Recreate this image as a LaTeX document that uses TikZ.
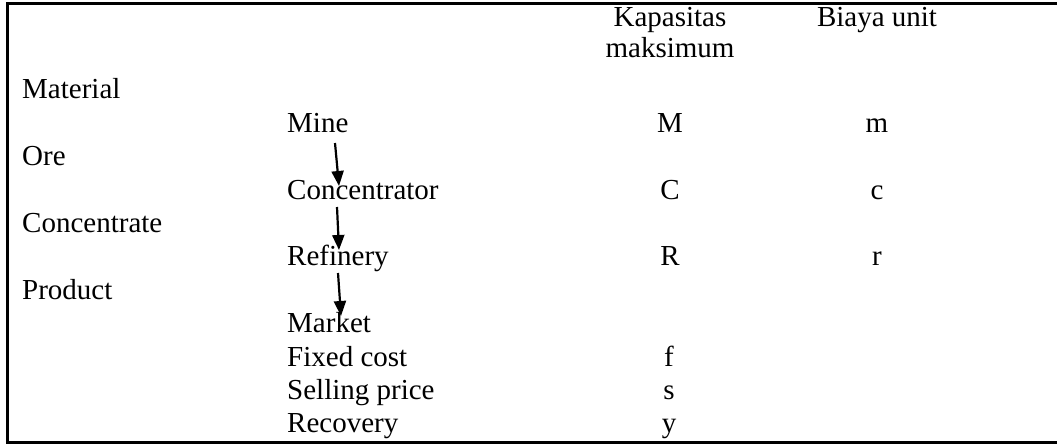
\documentclass[tikz,border=0pt]{standalone}
\usepackage{fontspec}
\setmainfont{Liberation Serif}
\usetikzlibrary{arrows.meta}
\tikzset{
  txt/.style={inner sep=0pt, anchor=base west, font=\fontsize{29}{33}\selectfont},
  ctxt/.style={inner sep=0pt, anchor=base, font=\fontsize{29}{33}\selectfont},
  arr/.style={line width=2.2pt, -{Triangle[width=12pt,length=15pt]}},
  frame/.style={line width=2.4pt}
}
\begin{document}
\begin{tikzpicture}[x=1pt,y=-1pt]
\useasboundingbox (0,0) rectangle (1057,444);
\draw[frame] (1057,3.5) -- (7.5,3.5) -- (7.5,442.5) -- (1057,442.5);
% headers
\node[ctxt] (kap1) at (670,27) {Kapasitas};
\node[ctxt] (kap2) at (670,58) {maksimum};
\node[ctxt] (biaya) at (877,27) {Biaya unit};
% left column
\node[txt] (material) at (22,98) {Material};
\node[txt] (ore) at (22,165) {Ore};
\node[txt] (concentrate) at (22,232) {Concentrate};
\node[txt] (product) at (22,299) {Product};
% middle column
\node[txt] (mine) at (287,132) {Mine};
\node[txt] (conc) at (287,199) {Concentrator};
\node[txt] (ref) at (287,265.5) {Refinery};
\node[txt] (market) at (287,332) {Market};
\node[txt] (fixed) at (287,366) {Fixed cost};
\node[txt] (selling) at (287,399) {Selling price};
\node[txt] (recovery) at (287,432) {Recovery};
% capacities
\node[ctxt] (M) at (670,132) {M};
\node[ctxt] (C) at (670,199) {C};
\node[ctxt] (R) at (670,265.5) {R};
\node[ctxt] (f) at (669,366) {f};
\node[ctxt] (s) at (669,399) {s};
\node[ctxt] (y) at (669,432) {y};
% unit costs
\node[ctxt] (m) at (877,132) {m};
\node[ctxt] (c) at (877,199) {c};
\node[ctxt] (r) at (877,265.5) {r};
% arrows
\coordinate (a1) at (335,143);
\coordinate (b1) at (339,186);
\coordinate (a2) at (337,207);
\coordinate (b2) at (339,250);
\coordinate (a3) at (338,273);
\coordinate (b3) at (341,316);
\draw[arr] (a1) -- (b1);
\draw[arr] (a2) -- (b2);
\draw[arr] (a3) -- (b3);
\end{tikzpicture}
\end{document}
